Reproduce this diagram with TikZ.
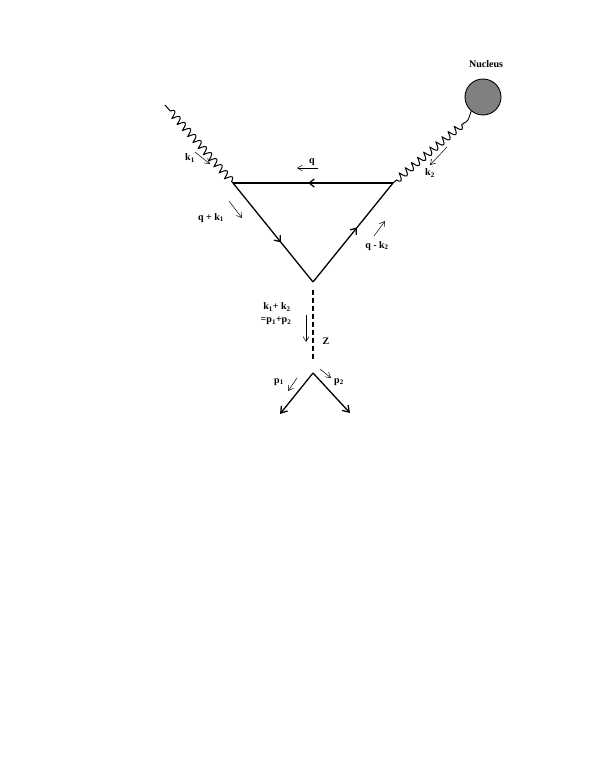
\documentclass[tikz,border=0pt]{standalone}
\usepackage{fontspec}
\setmainfont{Liberation Serif}
\usetikzlibrary{arrows.meta,decorations.pathmorphing,decorations.markings}
\begin{document}
\begin{tikzpicture}[x=1pt,y=-1pt,
  lbl/.style={font=\fontsize{10}{12}\selectfont\bfseries, inner sep=0pt},
  photon/.style={line width=1pt, decorate, decoration={coil, segment length=8pt, amplitude=3.5pt, aspect=0.2, pre length=#1, post length=2pt}},
  photon/.default=3pt,
  fermion/.style={line width=1.3pt},
  midarr/.style={postaction={decorate}, decoration={markings, mark=at position #1 with {\arrow{Straight Barb[length=5pt,width=8pt,line width=1.3pt]}}}},
  mom/.style={line width=0.5pt, -{Straight Barb[length=5pt,width=6pt]}},
  outline/.style={line width=1.3pt, -{Straight Barb[length=6pt,width=8pt]}}]
\useasboundingbox (0,0) rectangle (595,770);
% vertices
\coordinate (A) at (233,183);
\coordinate (B) at (393,183);
\coordinate (C) at (313,282);
\coordinate (Ls) at (165,105);
\coordinate (Rs) at (464,123);
\coordinate (Zt) at (313,290);
\coordinate (Zb) at (313,361);
\coordinate (V) at (313,373);
\coordinate (P1) at (280,414);
\coordinate (P2) at (350,413);
% nucleus
\node[circle, draw, line width=0.9pt, fill={rgb,255:red,128;green,128;blue,128}, minimum size=36pt, inner sep=0pt] (nuc) at (483,97) {};
\node[lbl] (nuclbl) at (486,64) {Nucleus};
% photons
\draw[photon=8pt] (Ls) -- (A);
\draw[line width=0.9pt] (nuc.-130) .. controls (468,121) .. (Rs);
\draw[photon] (Rs) -- (B);
% triangle
\draw[fermion, midarr=0.6] (A) -- (C);
\draw[fermion, midarr=0.55] (C) -- (B);
\draw[fermion, midarr=0.53] (B) -- (A);
% Z line
\draw[line width=1.6pt, dash pattern=on 5pt off 3pt] (Zt) -- (Zb);
% outgoing
\draw[outline] (V) -- (P1);
\draw[outline] (V) -- (P2);
% momentum arrows
\coordinate (k1a) at (195,152); \coordinate (k1b) at (210,164);
\draw[mom] (k1a) -- (k1b);
\node[lbl] (k1) at (190,158) {k\textsubscript{1}};
\coordinate (qa) at (318,168); \coordinate (qb) at (297,168);
\draw[mom] (qa) -- (qb);
\node[lbl] (q) at (312,162) {q};
\coordinate (qk1a) at (229,201); \coordinate (qk1b) at (242,218);
\draw[mom] (qk1a) -- (qk1b);
\node[lbl] (qk1) at (211,218) {q + k\textsubscript{1}};
\coordinate (qk2a) at (374,236); \coordinate (qk2b) at (385,221);
\draw[mom] (qk2a) -- (qk2b);
\node[lbl] (qk2) at (377,246) {q - k\textsubscript{2}};
\coordinate (k2a) at (447,147); \coordinate (k2b) at (430,165);
\draw[mom] (k2a) -- (k2b);
\node[lbl] (k2) at (430,173) {k\textsubscript{2}};
\node[lbl] (sum1) at (277,307) {k\textsubscript{1}+ k\textsubscript{2}};
\node[lbl] (sum2) at (276,321) {=p\textsubscript{1}+p\textsubscript{2}};
\coordinate (za) at (306,315); \coordinate (zb) at (306,342);
\draw[mom] (za) -- (zb);
\node[lbl] (Z) at (326,341) {Z};
\coordinate (p1a) at (297,378); \coordinate (p1b) at (288,391);
\draw[mom] (p1a) -- (p1b);
\node[lbl] (p1) at (279,382) {p\textsubscript{1}};
\coordinate (p2a) at (320,369); \coordinate (p2b) at (331,378);
\draw[mom] (p2a) -- (p2b);
\node[lbl] (p2) at (339,382) {p\textsubscript{2}};
\end{tikzpicture}
\end{document}
